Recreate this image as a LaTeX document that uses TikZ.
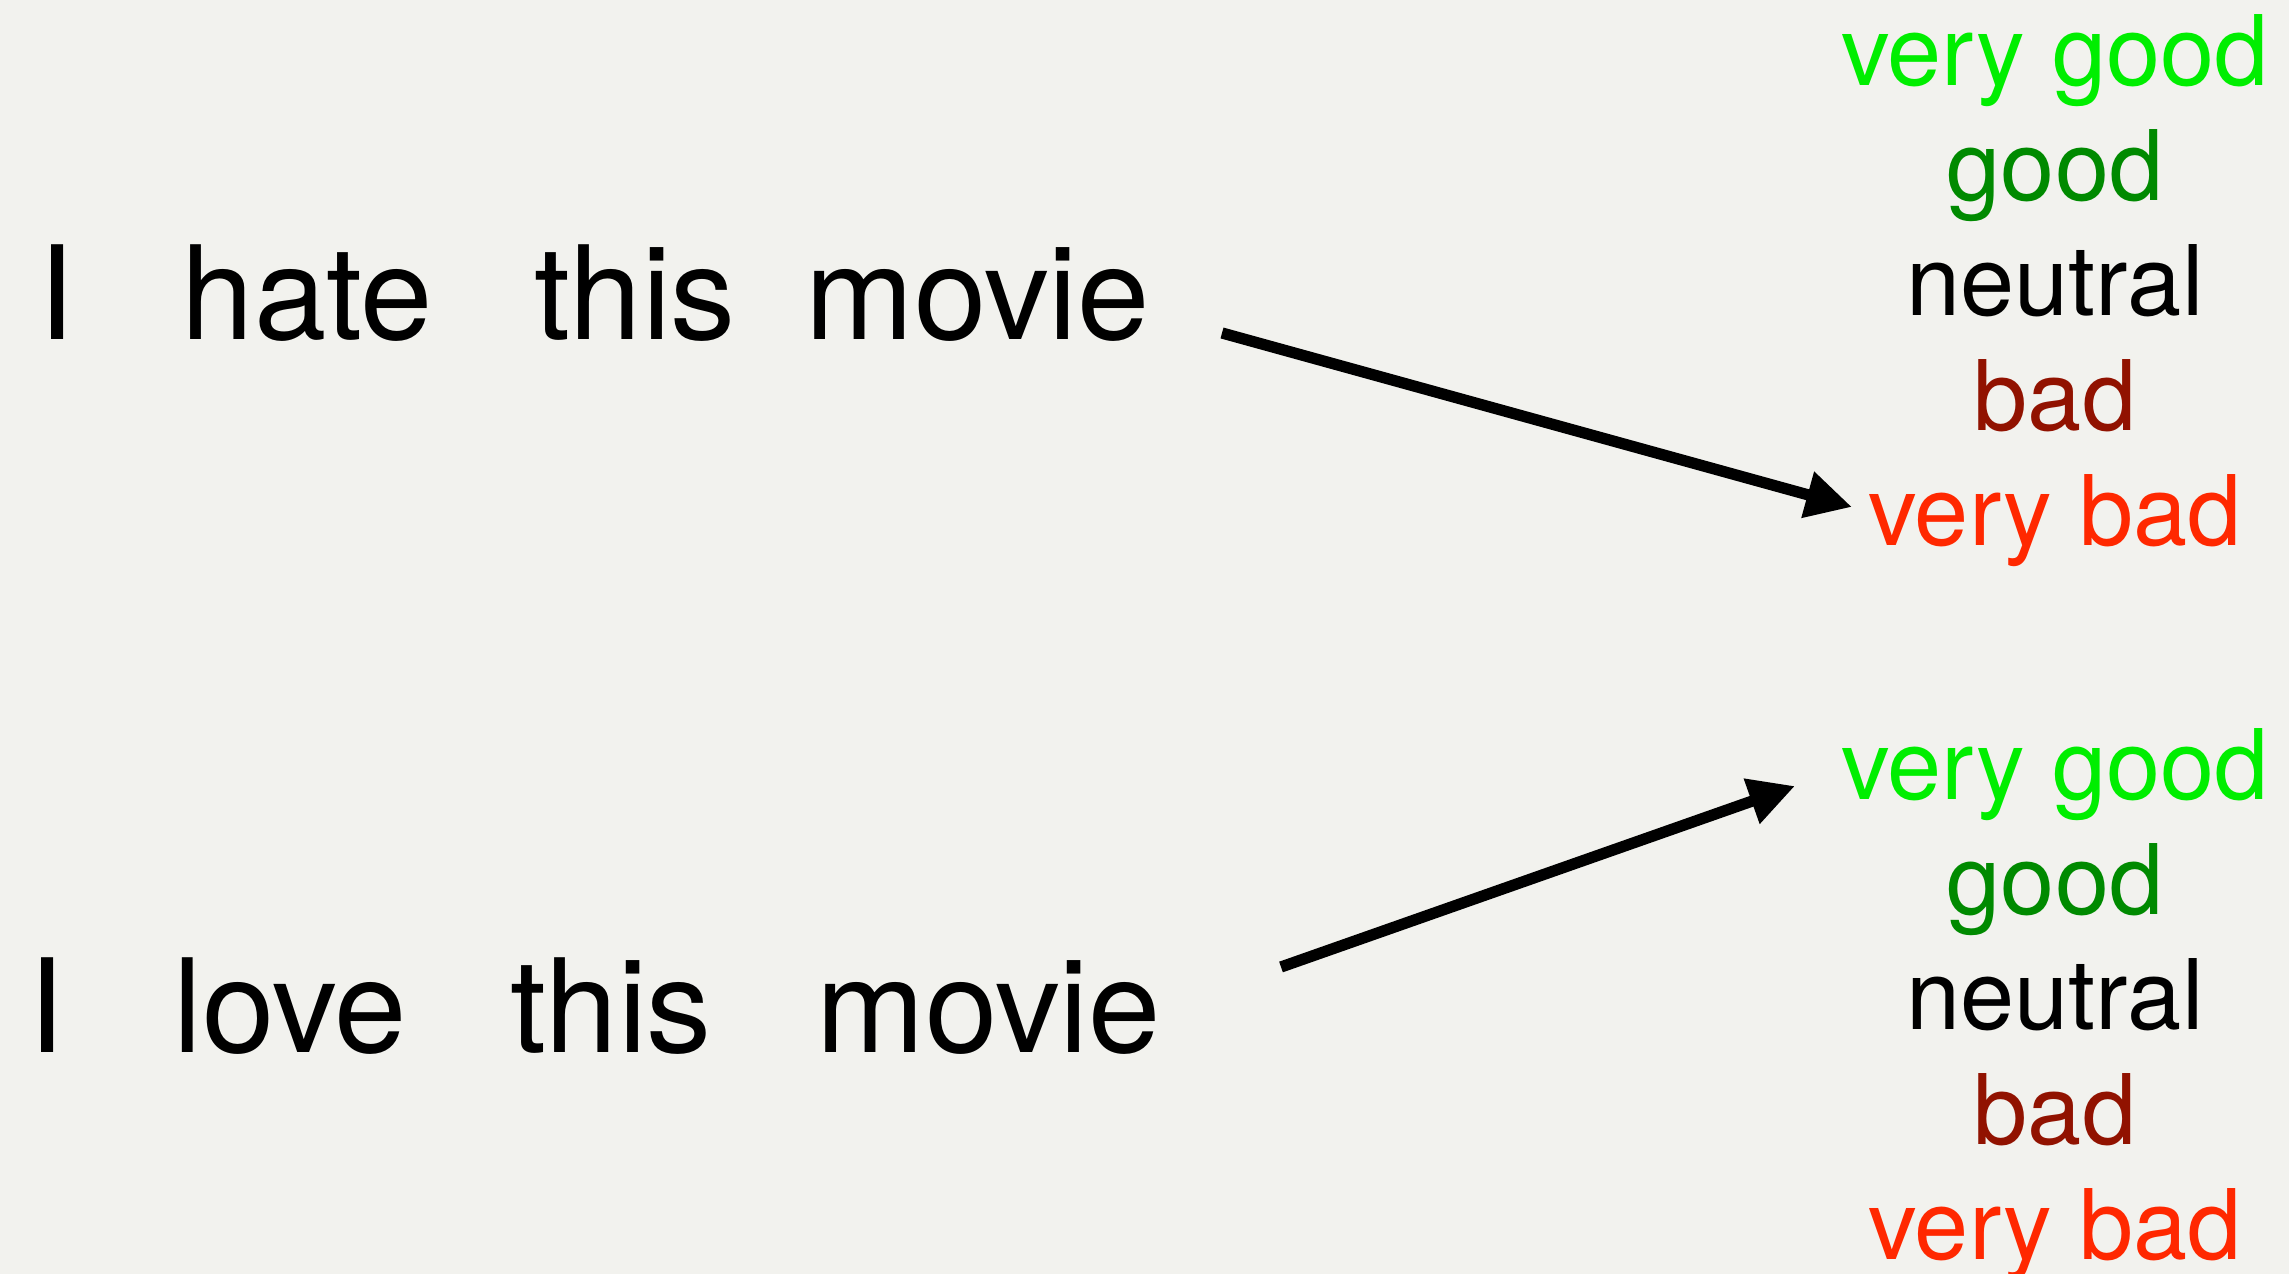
\documentclass[tikz,border=0pt]{standalone}
\usepackage{fontspec}
\setmainfont{TeX Gyre Heros}
\usetikzlibrary{arrows.meta,positioning}

\definecolor{paper}{RGB}{242,242,238}
\definecolor{vgood}{RGB}{0,238,0}
\definecolor{good}{RGB}{0,138,0}
\definecolor{bad}{RGB}{145,18,0}
\definecolor{vbad}{RGB}{255,40,0}

\begin{document}
\begin{tikzpicture}[
  word/.style={inner sep=0pt,anchor=base,font=\fontsize{37pt}{44pt}\selectfont},
  lab/.style={inner sep=0pt,anchor=base,font=\fontsize{27.7pt}{33pt}\selectfont},
  ar/.style={-{Triangle[length=4.6mm,width=4.5mm]},line width=3.2pt,black}]
\fill[paper] (0,0) rectangle (22.89,-12.74);
\useasboundingbox (0,0) rectangle (22.89,-12.74);
% first sentence
\node[word] (i1) at (0.57,-3.40) {I};
\node[word] (hate) at (3.075,-3.40) {hate};
\node[word] (this1) at (6.35,-3.40) {this};
\node[word] (movie1) at (9.78,-3.40) {movie};
% second sentence
\node[word] (i2) at (0.47,-10.52) {I};
\node[word] (love) at (2.90,-10.52) {love};
\node[word] (this2) at (6.11,-10.52) {this};
\node[word] (movie2) at (9.89,-10.52) {movie};
% upper scale
\node[lab,text=vgood] (vg1) at (20.55,-0.86) {very good};
\node[lab,text=good] (g1) at ([yshift=-1.148cm]vg1.base) {good};
\node[lab] (neu1) at ([yshift=-1.148cm]g1.base) {neutral};
\node[lab,text=bad] (bad1) at ([yshift=-1.148cm]neu1.base) {bad};
\node[lab,text=vbad] (vb1) at ([yshift=-1.148cm]bad1.base) {very bad};
% lower scale
\node[lab,text=vgood] (vg2) at (20.55,-8.00) {very good};
\node[lab,text=good] (g2) at ([yshift=-1.148cm]vg2.base) {good};
\node[lab] (neu2) at ([yshift=-1.148cm]g2.base) {neutral};
\node[lab,text=bad] (bad2) at ([yshift=-1.148cm]neu2.base) {bad};
\node[lab,text=vbad] (vb2) at ([yshift=-1.148cm]bad2.base) {very bad};
% connectors
\coordinate (out1) at (12.22,-3.33);
\coordinate (in1) at (18.52,-5.07);
\coordinate (out2) at (12.81,-9.67);
\coordinate (in2) at (17.95,-7.86);
\draw[ar] (out1) -- (in1);
\draw[ar] (out2) -- (in2);
\end{tikzpicture}
\end{document}
